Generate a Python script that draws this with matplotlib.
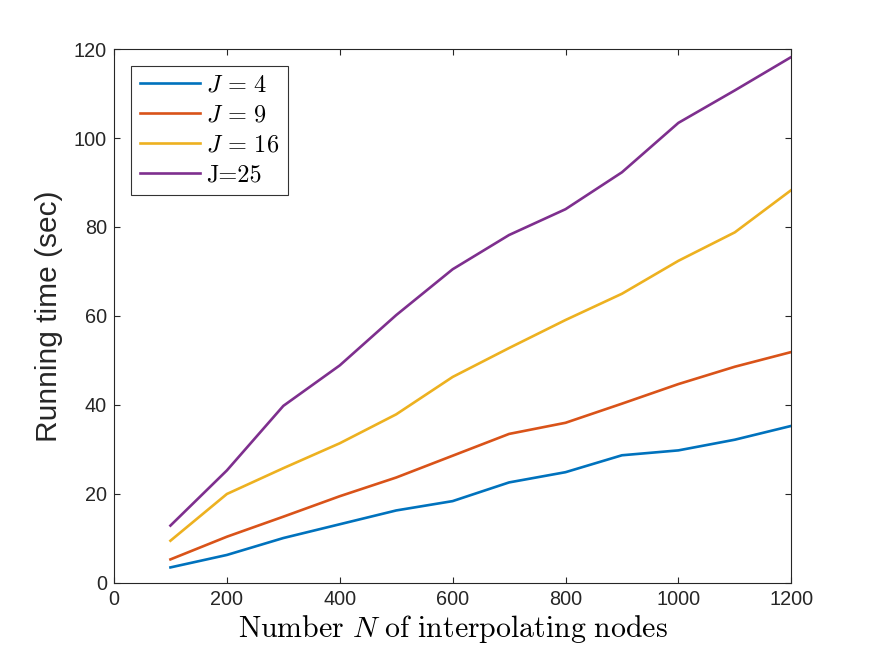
import numpy as np
import matplotlib
matplotlib.use("Agg")
import matplotlib.pyplot as plt

plt.rcParams['font.family'] = ['Liberation Sans', 'DejaVu Sans']
plt.rcParams['mathtext.fontset'] = 'cm'

nodes = [100, 200, 300, 400, 500, 600, 700, 800, 900, 1000, 1100, 1200]
t_j4 = [3.5, 6.3, 10.1, 13.2, 16.3, 18.4, 22.6, 24.9, 28.7, 29.8, 32.2, 35.3]
t_j9 = [5.3, 10.4, 14.9, 19.5, 23.7, 28.6, 33.5, 36.0, 40.3, 44.7, 48.6, 51.9]
t_j16 = [9.5, 20.0, 25.8, 31.4, 37.9, 46.3, 52.8, 59.1, 65.0, 72.4, 78.8, 88.3]
t_j25 = [12.9, 25.3, 39.8, 48.9, 60.2, 70.5, 78.2, 84.0, 92.3, 103.4, 110.7, 118.2]

labels = [r'$J\,=\,4$', r'$J\,=\,9$', r'$J\,=\,16$', 'J=25']
colors = ['#0072BD', '#D95319', '#EDB120', '#7E2F8E']
xticks = [0, 200, 400, 600, 800, 1000, 1200]
yticks = [0, 20, 40, 60, 80, 100, 120]

fig = plt.figure(figsize=(8.75, 6.56), dpi=100)
ax = fig.add_axes([0.1303, 0.1113, 0.774, 0.814])

for ys, lab, c in zip([t_j4, t_j9, t_j16, t_j25], labels, colors):
    ax.plot(nodes, ys, color=c, lw=1.9, label=lab)

ax.set_xlim(0, 1200)
ax.set_ylim(0, 120)
ax.set_xticks(xticks)
ax.set_yticks(yticks)
ax.tick_params(direction='in', top=True, right=True, labelsize=14.3,
               length=4.5, width=0.8, colors='#262626', pad=5)
for s in ax.spines.values():
    s.set_color('#262626')
    s.set_linewidth(0.8)

ax.set_xlabel(r'$\mathrm{Number}\ N\ \mathrm{of\ interpolating\ nodes}$',
              fontsize=21.5, labelpad=3)
ax.set_ylabel('Running time (sec)', fontsize=21.5, color='#262626', labelpad=8)

leg = ax.legend(loc='upper left', fontsize=17.5, frameon=True, fancybox=False,
                edgecolor='black', handlelength=2.5, handletextpad=0.25,
                borderpad=0.35, labelspacing=0.33, borderaxespad=0.7)
leg.get_frame().set_linewidth(0.8)
leg.get_texts()[3].set_fontfamily('cmr10')

fig.savefig('out.png', dpi=100)
